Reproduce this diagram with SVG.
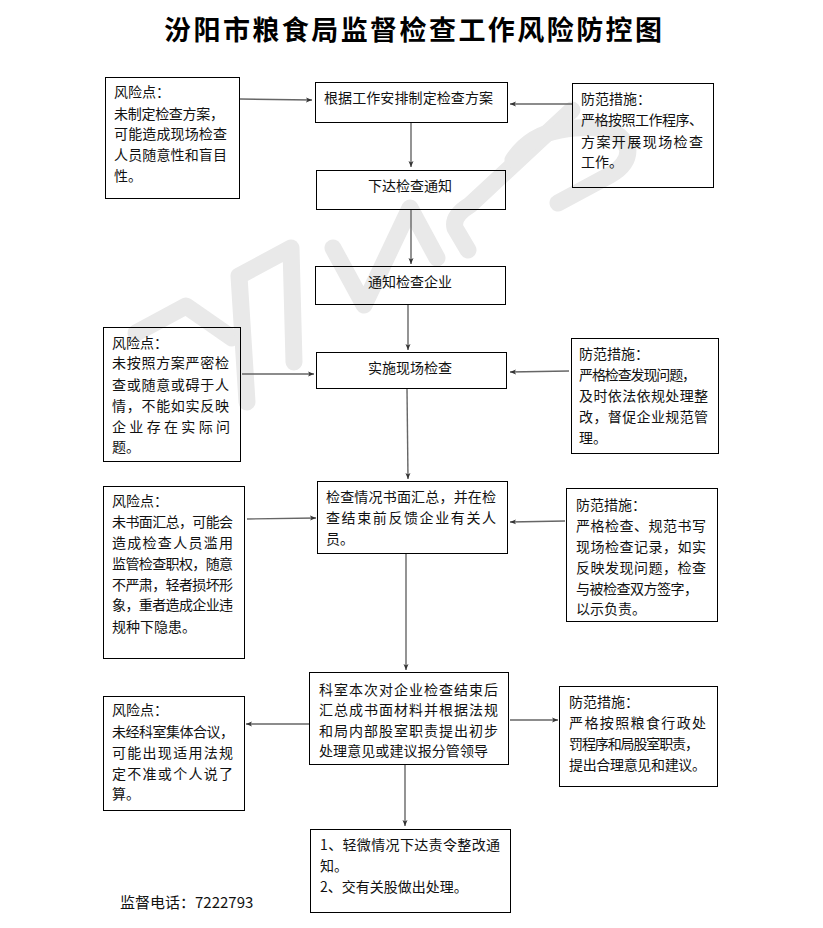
<svg xmlns="http://www.w3.org/2000/svg" width="823" height="928" viewBox="0 0 823 928">
<defs>
<marker id="ah" markerWidth="7" markerHeight="6" refX="6" refY="3" orient="auto" markerUnits="userSpaceOnUse"><path d="M0,0.500 L6,3 L0,5.500 L1.500,3 Z" fill="#333"/></marker>
</defs>
<style>
.b{fill:none;stroke:#000;stroke-width:1}
.t{font-family:"Noto Sans CJK SC","Noto Sans",sans-serif;font-size:14px;fill:#111}
.c{text-anchor:middle}
.k{fill:none;stroke:#666;stroke-width:1.400;marker-end:url(#ah)}
.w{fill:none;stroke:#e9e9e9;stroke-width:17;stroke-linecap:round;stroke-linejoin:round}
</style>
<rect width="823" height="928" fill="#fff"/>
<g id="watermark">
<path class="w" d="M136,333 L186,306 L232,338"/>
<path class="w" d="M247,402 L239,276 L291,248 L294,362"/>
<path class="w" d="M333,248 L364,305 L410,208 L437,258"/>
<path class="w" d="M468,250 L455,228 Q452,216 470,205 L572,110"/>
<path class="w" d="M513,160 Q530,135 560,130 Q620,120 628,150 Q628,165 610,175 L558,203"/>
</g>
<g id="title"><text x="413" y="40" text-anchor="middle" textLength="498" lengthAdjust="spacing" style="font-family:'Noto Sans CJK SC',sans-serif;font-size:27px;font-weight:700;fill:#000">汾阳市粮食局监督检查工作风险防控图</text></g>
<g id="connectors">
<path class="k" d="M240,99 L312,100"/>
<path class="k" d="M572,104 L510,104"/>
<path class="k" d="M411,123 L411,167"/>
<path class="k" d="M411,209 L411,264"/>
<path class="k" d="M408,304 L408,350"/>
<path class="k" d="M242,374 L314,374"/>
<path class="k" d="M569,371 L510,372"/>
<path class="k" d="M407,389 L408,479"/>
<path class="k" d="M247,519 L316,518"/>
<path class="k" d="M565,521 L510,522"/>
<path class="k" d="M406,554 L406,670"/>
<path class="k" d="M309,724 L246,724"/>
<path class="k" d="M510,720 L558,720"/>
<path class="k" d="M405,765 L405,826"/>
</g>
<g id="risk1"><rect class="b" x="105.500" y="77.500" width="134" height="121"/>
<text class="t" x="114" y="97">风险点：</text>
<text class="t" x="114" y="119" textLength="110">未制定检查方案，</text>
<text class="t" x="114" y="139" textLength="113">可能造成现场检查</text>
<text class="t" x="114" y="160" textLength="113">人员随意性和盲目</text>
<text class="t" x="114" y="181">性。</text></g>
<g id="step1"><rect class="b" x="315.500" y="82.500" width="192" height="40"/>
<text class="t" x="324" y="103" textLength="169">根据工作安排制定检查方案</text></g>
<g id="measure1"><rect class="b" x="572.500" y="83.500" width="141" height="104"/>
<text class="t" x="581" y="104">防范措施：</text>
<text class="t" x="581" y="125" textLength="122">严格按照工作程序、</text>
<text class="t" x="581" y="147" textLength="122">方案开展现场检查</text>
<text class="t" x="581" y="167">工作。</text></g>
<g id="step2"><rect class="b" x="316.500" y="170.500" width="189" height="39"/>
<text class="t c" x="410" y="191">下达检查通知</text></g>
<g id="step3"><rect class="b" x="315.500" y="266.500" width="190" height="38"/>
<text class="t c" x="410" y="287">通知检查企业</text></g>
<g id="risk2"><rect class="b" x="103.500" y="327.500" width="137" height="134"/>
<text class="t" x="112" y="348">风险点：</text>
<text class="t" x="112" y="368" textLength="117">未按照方案严密检</text>
<text class="t" x="112" y="390" textLength="117">查或随意或碍于人</text>
<text class="t" x="112" y="411" textLength="117">情，不能如实反映</text>
<text class="t" x="112" y="432" textLength="118">企业存在实际问</text>
<text class="t" x="112" y="452">题。</text></g>
<g id="step4"><rect class="b" x="316.500" y="352.500" width="190" height="36"/>
<text class="t c" x="410" y="373">实施现场检查</text></g>
<g id="measure2"><rect class="b" x="571.500" y="338.500" width="147" height="115"/>
<text class="t" x="579" y="359">防范措施：</text>
<text class="t" x="579" y="380" textLength="117">严格检查发现问题，</text>
<text class="t" x="579" y="401" textLength="129">及时依法依规处理整</text>
<text class="t" x="579" y="422" textLength="129">改，督促企业规范管</text>
<text class="t" x="579" y="443">理。</text></g>
<g id="risk3"><rect class="b" x="103.500" y="486.500" width="141" height="172"/>
<text class="t" x="112" y="506">风险点：</text>
<text class="t" x="112" y="527" textLength="121">未书面汇总，可能会</text>
<text class="t" x="112" y="548" textLength="121">造成检查人员滥用</text>
<text class="t" x="112" y="569" textLength="121">监管检查职权，随意</text>
<text class="t" x="112" y="590" textLength="121">不严肃，轻者损坏形</text>
<text class="t" x="112" y="610" textLength="121">象，重者造成企业违</text>
<text class="t" x="112" y="632">规种下隐患。</text></g>
<g id="step5"><rect class="b" x="317.500" y="481.500" width="190" height="72"/>
<text class="t" x="326" y="502" textLength="170">检查情况书面汇总，并在检</text>
<text class="t" x="326" y="523" textLength="170">查结束前反馈企业有关人</text>
<text class="t" x="326" y="544">员。</text></g>
<g id="measure3"><rect class="b" x="566.500" y="488.500" width="151" height="133"/>
<text class="t" x="576" y="510">防范措施：</text>
<text class="t" x="576" y="531" textLength="130">严格检查、规范书写</text>
<text class="t" x="576" y="552" textLength="130">现场检查记录，如实</text>
<text class="t" x="576" y="573" textLength="130">反映发现问题，检查</text>
<text class="t" x="576" y="594" textLength="122">与被检查双方签字，</text>
<text class="t" x="576" y="614">以示负责。</text></g>
<g id="step6"><rect class="b" x="309.500" y="672.500" width="199" height="92"/>
<text class="t" x="319" y="695" textLength="179">科室本次对企业检查结束后</text>
<text class="t" x="319" y="715" textLength="179">汇总成书面材料并根据法规</text>
<text class="t" x="319" y="736" textLength="179">和局内部股室职责提出初步</text>
<text class="t" x="319" y="756" textLength="169">处理意见或建议报分管领导</text></g>
<g id="risk4"><rect class="b" x="103.500" y="696.500" width="141" height="114"/>
<text class="t" x="112" y="715">风险点：</text>
<text class="t" x="112" y="737" textLength="122">未经科室集体合议，</text>
<text class="t" x="112" y="758" textLength="121">可能出现适用法规</text>
<text class="t" x="112" y="779" textLength="121">定不准或个人说了</text>
<text class="t" x="112" y="799">算。</text></g>
<g id="measure4"><rect class="b" x="559.500" y="686.500" width="158" height="100"/>
<text class="t" x="569" y="707">防范措施：</text>
<text class="t" x="569" y="728" textLength="137">严格按照粮食行政处</text>
<text class="t" x="569" y="749" textLength="130">罚程序和局股室职责，</text>
<text class="t" x="569" y="770" textLength="137">提出合理意见和建议。</text></g>
<g id="step7"><rect class="b" x="310.500" y="829.500" width="200" height="83"/>
<text class="t" x="320" y="850" textLength="180">1、轻微情况下达责令整改通</text>
<text class="t" x="320" y="871">知。</text>
<text class="t" x="320" y="892">2、交有关股做出处理。</text></g>
<g id="phone"><text class="t" x="120" y="908" style="font-size:15px">监督电话：7222793</text></g>
</svg>
